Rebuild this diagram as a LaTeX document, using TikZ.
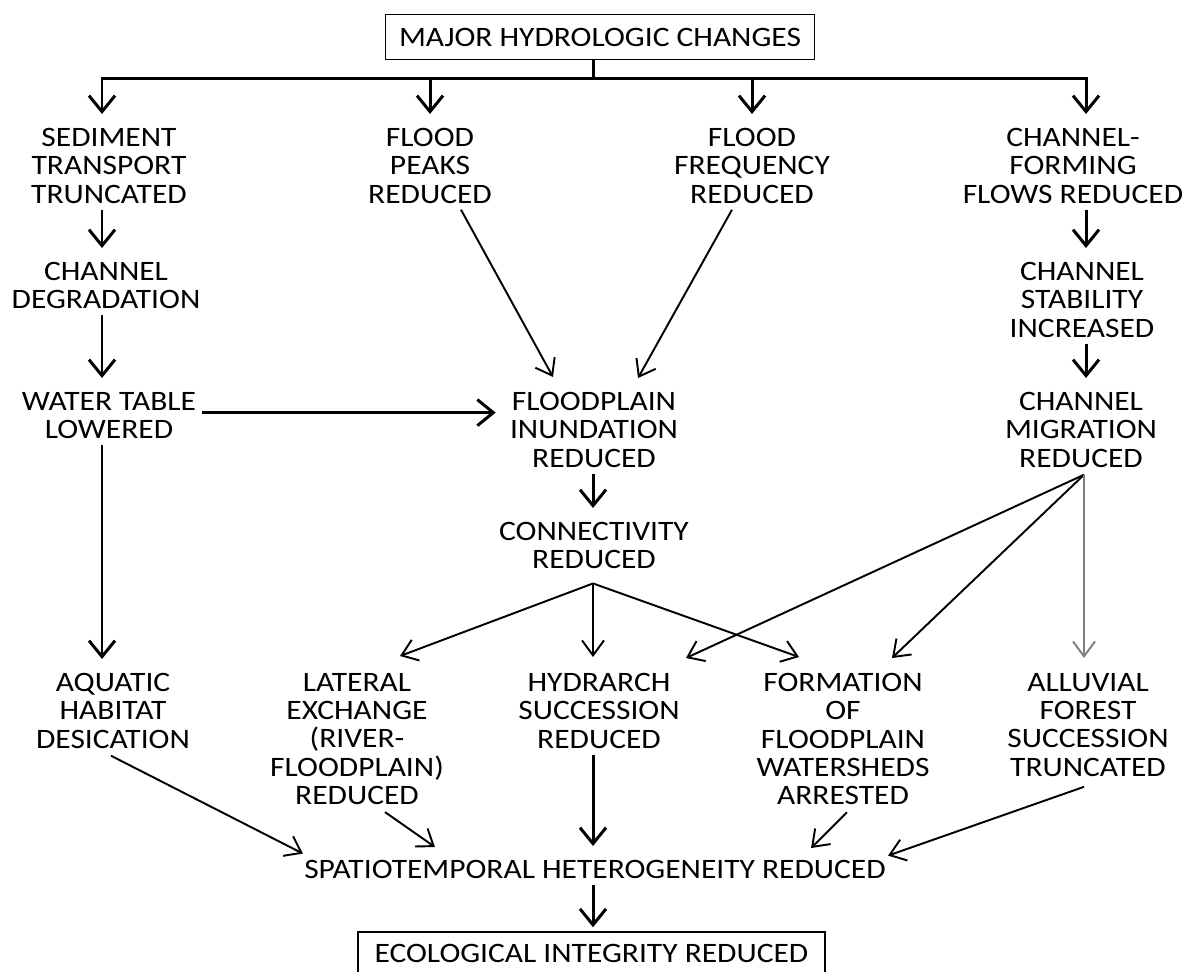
\documentclass[tikz,border=0pt]{standalone}
\usepackage{fontspec}
\setmainfont{Carlito}[FakeStretch=1.12]
\usetikzlibrary{arrows.meta,calc}

\begin{document}
\begin{tikzpicture}[x=0.02cm, y=-0.02cm,
    label text/.style={align=center, anchor=north, inner sep=0.12cm, font=\fontsize{16}{16.1}\selectfont},
    framed text/.style={draw, line width=0.9pt, inner sep=0pt, font=\fontsize{16}{16.1}\selectfont},
    main line/.style={line width=1.7pt},
    main arrow/.style={line width=1.7pt, -{Straight Barb[length=0.32cm, width=0.52cm]}, shorten >=0.16cm},
    side arrow/.style={line width=1.1pt, -{Straight Barb[length=0.3cm, width=0.44cm]}}]

    \useasboundingbox (0,0) rectangle (1185,971);

    % Top and bottom boxes
    \node[framed text, minimum width=8.58cm, minimum height=0.9cm] (major) at (600,37) {MAJOR HYDROLOGIC CHANGES};
    \node[framed text, minimum width=9.34cm, minimum height=0.86cm] (ecological) at (591.5,953.5) {ECOLOGICAL INTEGRITY REDUCED};

    % First row of effects
    \node[label text] (sediment) at (109,122) {SEDIMENT\\TRANSPORT\\TRUNCATED};
    \node[label text] (peaks) at (430,122) {FLOOD\\PEAKS\\REDUCED};
    \node[label text] (frequency) at (752,122) {FLOOD\\FREQUENCY\\REDUCED};
    \node[label text] (cforming) at (1073,122) {CHANNEL-\\FORMING\\FLOWS REDUCED};

    % Middle rows
    \node[label text] (degradation) at (106,256) {CHANNEL\\DEGRADATION};
    \node[label text] (stability) at (1082,256) {CHANNEL\\STABILITY\\INCREASED};
    \node[label text] (watertable) at (109,386) {WATER TABLE\\LOWERED};
    \node[label text] (inundation) at (594,386) {FLOODPLAIN\\INUNDATION\\REDUCED};
    \node[label text] (migration) at (1081,386) {CHANNEL\\MIGRATION\\REDUCED};
    \node[label text] (connect) at (594,516) {CONNECTIVITY\\REDUCED};

    % Ecological responses
    \node[label text] (aquatic) at (113,667) {AQUATIC\\HABITAT\\DESICATION};
    \node[label text] (lateral) at (357,667) {LATERAL\\EXCHANGE\\(RIVER-\\FLOODPLAIN)\\REDUCED};
    \node[label text] (hydrarch) at (599,667) {HYDRARCH\\SUCCESSION\\REDUCED};
    \node[label text] (formation) at (843,667) {FORMATION\\OF\\FLOODPLAIN\\WATERSHEDS\\ARRESTED};
    \node[label text] (alluvial) at (1088,667) {ALLUVIAL\\FOREST\\SUCCESSION\\TRUNCATED};
    \node[label text] (spatio) at (595,854) {SPATIOTEMPORAL HETEROGENEITY REDUCED};

    % Columns of the vertical arrows
    \coordinate (split) at (593,78);
    \coordinate (leftx) at (102,0);
    \coordinate (rightx) at (1086,0);
    \coordinate (midx) at (593,0);

    % Branching from the top box
    \draw[main line] (major.south -| split) -- (split);
    \draw[main arrow] (split) -| (sediment.north -| leftx);
    \draw[main arrow] (split) -| (peaks.north);
    \draw[main arrow] (split) -| (frequency.north);
    \draw[main arrow] (split) -| (cforming.north -| rightx);

    % Left and right chains
    \draw[main arrow] (sediment.south -| leftx) -- (degradation.north -| leftx);
    \draw[main arrow] (degradation.south -| leftx) -- (watertable.north -| leftx);
    \draw[main arrow] (watertable.south -| leftx) -- (aquatic.north -| leftx);
    \draw[main arrow] (cforming.south -| rightx) -- (stability.north -| rightx);
    \draw[main arrow] (stability.south -| rightx) -- (migration.north -| rightx);

    % Into floodplain inundation
    \draw[main arrow] ($(watertable.east)+(0,-3)$) coordinate (wt) -- (wt -| inundation.west);
    \draw[side arrow] ($(peaks.south)+(31,0)$) -- ($(inundation.north)+(-41,-9)$);
    \draw[side arrow] ($(frequency.south)+(-20,0)$) -- ($(inundation.north)+(44,-8)$);
    \draw[main arrow] (inundation.south -| midx) -- (connect.north -| midx);

    % Fans from connectivity and channel migration
    \coordinate (cfan) at ($(connect.south)+(-1,8)$);
    \draw[side arrow] (cfan) -- ($(lateral.north)+(43,-11)$);
    \draw[side arrow] (cfan) -- ($(cfan |- hydrarch.north)+(0,-10)$);
    \draw[side arrow] (cfan) -- ($(formation.north)+(-44,-10)$);
    \coordinate (mfan) at ($(migration.south)+(3,1)$);
    \draw[side arrow] (mfan) -- ($(hydrarch.north)+(87,-9)$);
    \draw[side arrow] (mfan) -- ($(formation.north)+(49,-9)$);
    \draw[side arrow, gray] (mfan) -- ($(alluvial.north)+(-4,-9)$);

    % Into spatiotemporal heterogeneity
    \draw[side arrow] ($(aquatic.south)+(-2,1)$) -- ($(spatio.west)+(5,-16)$);
    \draw[side arrow] ($(lateral.south)+(28,1)$) -- ($(spatio.north west)+(137,-7)$);
    \draw[main arrow] (hydrarch.south -| midx) -- (spatio.north -| midx);
    \draw[side arrow] ($(formation.south)+(4,1)$) -- ($(spatio.north east)+(-81,-6)$);
    \draw[side arrow] ($(alluvial.south)+(-4,4)$) -- ($(spatio.east)+(-4,-14)$);
    \draw[main arrow, shorten >=0.08cm] (spatio.south -| midx) -- (ecological.north -| midx);

\end{tikzpicture}
\end{document}
